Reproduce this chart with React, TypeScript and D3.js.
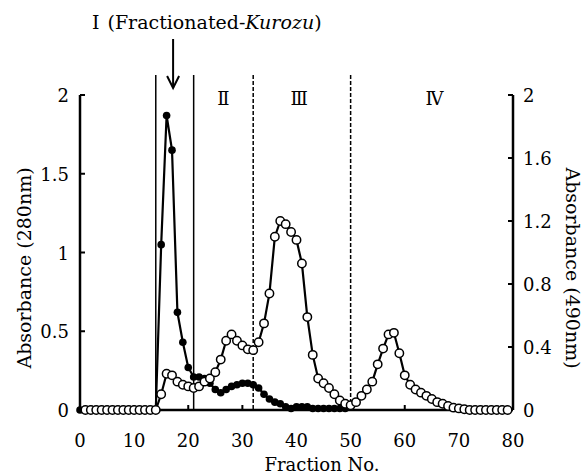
import * as d3 from 'd3';

// Absorbance at 280 nm (filled circles), index = fraction no. 0..50
const abs280 = [
  0, 0, 0, 0, 0, 0, 0, 0, 0, 0, 0, 0, 0, 0, 0,
  1.05, 1.87, 1.65, 0.62, 0.43, 0.27, 0.21, 0.21, 0.2, 0.17,
  0.13, 0.11, 0.13, 0.15, 0.16, 0.17, 0.17, 0.16, 0.14, 0.1,
  0.07, 0.05, 0.04, 0.02, 0.01, 0.02, 0.02, 0.02, 0.01, 0.01,
  0.01, 0.01, 0.01, 0.01, 0.01, 0.02,
];

// Absorbance at 490 nm (open circles), fractions 1..80
const abs490Start = 1;
const abs490 = [
  0, 0, 0, 0, 0, 0, 0, 0, 0, 0, 0, 0, 0, 0,
  0.1, 0.23, 0.22, 0.18, 0.16, 0.15, 0.14, 0.15, 0.18, 0.2,
  0.24, 0.32, 0.44, 0.48, 0.44, 0.41, 0.385, 0.38, 0.43, 0.55,
  0.74, 1.1, 1.2, 1.18, 1.13, 1.08, 0.93, 0.59, 0.35, 0.2,
  0.17, 0.14, 0.1, 0.06, 0.04, 0.03, 0.05, 0.09, 0.13, 0.18,
  0.29, 0.39, 0.48, 0.49, 0.36, 0.22, 0.16, 0.13, 0.11, 0.09,
  0.07, 0.05, 0.04, 0.025, 0.015, 0.01, 0.005, 0, 0, 0,
  0, 0, 0, 0, 0,
];

const xTicks = [0, 10, 20, 30, 40, 50, 60, 70, 80];
const leftTicks = [0, 0.5, 1, 1.5, 2];
const rightTicks = [0, 0.4, 0.8, 1.2, 1.6, 2];
const solidBounds = [14, 21];
const dashedBounds = [32, 50];
const regionLabels = [
  { label: 'Ⅱ', at: 26.5 },
  { label: 'Ⅲ', at: 40.5 },
  { label: 'Ⅳ', at: 65.5 },
];

const W = 588;
const H = 476;
const FONT = "'DejaVu Serif', 'Liberation Serif', serif";

export default function App() {
  const x = d3.scaleLinear().domain([0, 80]).range([80, 513]);
  const yL = d3.scaleLinear().domain([0, 2]).range([410, 95]);
  const yR = d3.scaleLinear().domain([0, 2]).range([410, 95]);

  const pts280 = abs280.map((v, i) => [i, v] as [number, number]);
  const pts490 = abs490.map((v, i) => [i + abs490Start, v] as [number, number]);

  const line280 = d3.line<[number, number]>().x(d => x(d[0])).y(d => yL(d[1]))(pts280) || '';
  const line490 = d3.line<[number, number]>().x(d => x(d[0])).y(d => yR(d[1]))(pts490) || '';

  const arrowX = x(17.2);

  return (
    <svg width={W} height={H} style={{ position: 'absolute', left: 0, top: 0, background: '#fff' }}
      fontFamily={FONT}>
      {/* title */}
      <text x={92} y={29} fontSize={19}>
        <tspan>Ⅰ</tspan>
        <tspan dx={8}>(Fractionated-</tspan>
        <tspan fontStyle="italic">Kurozu</tspan>
        <tspan>)</tspan>
      </text>
      {/* arrow */}
      <line x1={arrowX} x2={arrowX} y1={39} y2={88} stroke="#000" strokeWidth={2} />
      <path d={`M${arrowX - 6},${76} L${arrowX},${88} L${arrowX + 6},${76}`} fill="none" stroke="#000" strokeWidth={2} />

      {/* fraction boundaries */}
      {solidBounds.map(b => (
        <line key={'s' + b} x1={x(b)} x2={x(b)} y1={75} y2={yL(0)} stroke="#000" strokeWidth={1.5} />
      ))}
      {dashedBounds.map(b => (
        <line key={'d' + b} x1={x(b)} x2={x(b)} y1={75} y2={yL(0)} stroke="#000" strokeWidth={1.5} strokeDasharray="4,2" />
      ))}
      {regionLabels.map(r => (
        <text key={r.label} x={x(r.at)} y={105} fontSize={18} textAnchor="middle">{r.label}</text>
      ))}

      {/* axes */}
      <line x1={x(0)} x2={x(0)} y1={yL(2)} y2={yL(0)} stroke="#000" strokeWidth={2.5} />
      <line x1={x(80)} x2={x(80)} y1={yR(2)} y2={yR(0)} stroke="#000" strokeWidth={2.5} />
      <line x1={x(0)} x2={x(80)} y1={yL(0)} y2={yL(0)} stroke="#000" strokeWidth={2.5} />
      {leftTicks.map(t => (
        <g key={'l' + t}>
          <line x1={x(0)} x2={x(0) + 5} y1={yL(t)} y2={yL(t)} stroke="#000" strokeWidth={2} />
          <text x={69} y={yL(t) + 7} fontSize={18} textAnchor="end">{t}</text>
        </g>
      ))}
      {rightTicks.map(t => (
        <g key={'r' + t}>
          <line x1={x(80) - 5} x2={x(80)} y1={yR(t)} y2={yR(t)} stroke="#000" strokeWidth={2} />
          <text x={523} y={yR(t) + 7} fontSize={18}>{t}</text>
        </g>
      ))}
      {xTicks.map(t => (
        <g key={'x' + t}>
          <line x1={x(t)} x2={x(t)} y1={yL(0)} y2={yL(0) - 5} stroke="#000" strokeWidth={2} />
          <text x={x(t)} y={447} fontSize={18} textAnchor="middle">{t}</text>
        </g>
      ))}
      <text x={322} y={471} fontSize={18} textAnchor="middle">Fraction No.</text>
      <text transform={`translate(31, 268) rotate(-90)`} fontSize={19} textAnchor="middle">Absorbance (280nm)</text>
      <text transform={`translate(566, 268) rotate(90)`} fontSize={19} textAnchor="middle">Absorbance (490nm)</text>

      {/* 280 nm series */}
      <path d={line280} fill="none" stroke="#000" strokeWidth={2.2} />
      {pts280.map(d => (
        <circle key={'f' + d[0]} cx={x(d[0])} cy={yL(d[1])} r={3.8} fill="#000" />
      ))}
      {/* 490 nm series */}
      <path d={line490} fill="none" stroke="#000" strokeWidth={2.2} />
      {pts490.map(d => (
        <circle key={'o' + d[0]} cx={x(d[0])} cy={yR(d[1])} r={4.2} fill="#fff" stroke="#000" strokeWidth={1.5} />
      ))}
    </svg>
  );
}
